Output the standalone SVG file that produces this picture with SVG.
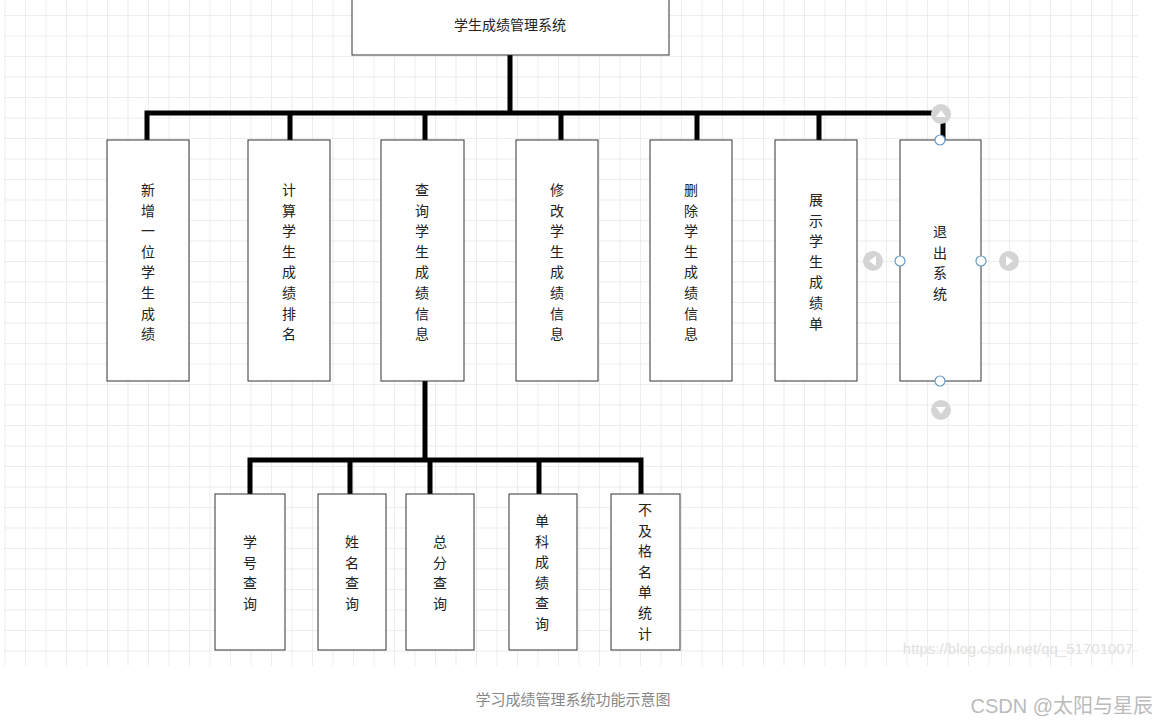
<svg xmlns="http://www.w3.org/2000/svg" width="1158" height="724" viewBox="0 0 1158 724">
<defs>
<pattern id="g" x="4.5" y="15" width="20.5" height="20.5" patternUnits="userSpaceOnUse"><path d="M0 0H20.5M0 0V20.5" stroke="#dcdcdc" stroke-width="1" fill="none"/></pattern>
<style>
.b{fill:#fff;stroke:#333;stroke-width:1}
.t{font-family:"Noto Sans CJK SC","Liberation Sans",sans-serif;font-size:14px;fill:#222;text-anchor:middle}
.c{stroke:#000;stroke-width:5;fill:none}
.h{fill:#fff;stroke:#6a9bc3;stroke-width:1.2}
.a{fill:#d4d4d4}
</style>
</defs>
<rect width="1158" height="724" fill="#fff"/>
<rect x="4" y="0" width="1134" height="666" fill="url(#g)"/>
<g id="connectors" class="c">
<path d="M510 55V113M147 140V113H943V140M290 113V140M425 113V140M561 113V140M697 113V140M819 113V140"/>
<path d="M425 381V460M250 494V460H641V494M350 460V494M430 460V494M539 460V494"/>
</g>
<g id="root"><rect class="b" x="352" y="-1" width="317" height="56"/><text class="t" x="510" y="30">学生成绩管理系统</text></g>
<g id="n1"><rect class="b" x="107" y="140" width="82" height="241"/><text class="t" x="148"><tspan x="148" y="195">新</tspan><tspan x="148" dy="20.6">增</tspan><tspan x="148" dy="20.6">一</tspan><tspan x="148" dy="20.6">位</tspan><tspan x="148" dy="20.6">学</tspan><tspan x="148" dy="20.6">生</tspan><tspan x="148" dy="20.6">成</tspan><tspan x="148" dy="20.6">绩</tspan></text></g>
<g id="n2"><rect class="b" x="248" y="140" width="82" height="241"/><text class="t"><tspan x="289" y="195">计</tspan><tspan x="289" dy="20.6">算</tspan><tspan x="289" dy="20.6">学</tspan><tspan x="289" dy="20.6">生</tspan><tspan x="289" dy="20.6">成</tspan><tspan x="289" dy="20.6">绩</tspan><tspan x="289" dy="20.6">排</tspan><tspan x="289" dy="20.6">名</tspan></text></g>
<g id="n3"><rect class="b" x="381" y="140" width="83" height="241"/><text class="t"><tspan x="422" y="195">查</tspan><tspan x="422" dy="20.6">询</tspan><tspan x="422" dy="20.6">学</tspan><tspan x="422" dy="20.6">生</tspan><tspan x="422" dy="20.6">成</tspan><tspan x="422" dy="20.6">绩</tspan><tspan x="422" dy="20.6">信</tspan><tspan x="422" dy="20.6">息</tspan></text></g>
<g id="n4"><rect class="b" x="516" y="140" width="82" height="241"/><text class="t"><tspan x="557" y="195">修</tspan><tspan x="557" dy="20.6">改</tspan><tspan x="557" dy="20.6">学</tspan><tspan x="557" dy="20.6">生</tspan><tspan x="557" dy="20.6">成</tspan><tspan x="557" dy="20.6">绩</tspan><tspan x="557" dy="20.6">信</tspan><tspan x="557" dy="20.6">息</tspan></text></g>
<g id="n5"><rect class="b" x="650" y="140" width="82" height="241"/><text class="t"><tspan x="691" y="195">删</tspan><tspan x="691" dy="20.6">除</tspan><tspan x="691" dy="20.6">学</tspan><tspan x="691" dy="20.6">生</tspan><tspan x="691" dy="20.6">成</tspan><tspan x="691" dy="20.6">绩</tspan><tspan x="691" dy="20.6">信</tspan><tspan x="691" dy="20.6">息</tspan></text></g>
<g id="n6"><rect class="b" x="775" y="140" width="82" height="241"/><text class="t"><tspan x="816" y="205">展</tspan><tspan x="816" dy="20.6">示</tspan><tspan x="816" dy="20.6">学</tspan><tspan x="816" dy="20.6">生</tspan><tspan x="816" dy="20.6">成</tspan><tspan x="816" dy="20.6">绩</tspan><tspan x="816" dy="20.6">单</tspan></text></g>
<g id="n7"><rect class="b" x="900" y="140" width="81" height="241"/><text class="t"><tspan x="940" y="237">退</tspan><tspan x="940" dy="20.6">出</tspan><tspan x="940" dy="20.6">系</tspan><tspan x="940" dy="20.6">统</tspan></text>
<circle class="a" cx="941" cy="114" r="10"/><path d="M936 111H946L941 118Z" fill="#fff" transform="rotate(180 941 114)"/>
<circle class="a" cx="941" cy="410" r="10"/><path d="M936 407H946L941 414Z" fill="#fff"/>
<circle class="a" cx="873" cy="261" r="10"/><path d="M876 256V266L869 261Z" fill="#fff"/>
<circle class="a" cx="1009" cy="261" r="10"/><path d="M1006 256V266L1013 261Z" fill="#fff"/>
<circle class="h" cx="940" cy="140" r="5"/><circle class="h" cx="940" cy="381" r="5"/><circle class="h" cx="900" cy="261" r="5"/><circle class="h" cx="981" cy="261" r="5"/></g>
<g id="s1"><rect class="b" x="215" y="494" width="70" height="156"/><text class="t"><tspan x="250" y="547">学</tspan><tspan x="250" dy="20.6">号</tspan><tspan x="250" dy="20.6">查</tspan><tspan x="250" dy="20.6">询</tspan></text></g>
<g id="s2"><rect class="b" x="318" y="494" width="68" height="156"/><text class="t"><tspan x="352" y="547">姓</tspan><tspan x="352" dy="20.6">名</tspan><tspan x="352" dy="20.6">查</tspan><tspan x="352" dy="20.6">询</tspan></text></g>
<g id="s3"><rect class="b" x="406" y="494" width="68" height="156"/><text class="t"><tspan x="440" y="547">总</tspan><tspan x="440" dy="20.6">分</tspan><tspan x="440" dy="20.6">查</tspan><tspan x="440" dy="20.6">询</tspan></text></g>
<g id="s4"><rect class="b" x="509" y="494" width="68" height="156"/><text class="t"><tspan x="542" y="526">单</tspan><tspan x="542" dy="20.6">科</tspan><tspan x="542" dy="20.6">成</tspan><tspan x="542" dy="20.6">绩</tspan><tspan x="542" dy="20.6">查</tspan><tspan x="542" dy="20.6">询</tspan></text></g>
<g id="s5"><rect class="b" x="611" y="494" width="69" height="156"/><text class="t"><tspan x="645" y="515">不</tspan><tspan x="645" dy="20.6">及</tspan><tspan x="645" dy="20.6">格</tspan><tspan x="645" dy="20.6">名</tspan><tspan x="645" dy="20.6">单</tspan><tspan x="645" dy="20.6">统</tspan><tspan x="645" dy="20.6">计</tspan></text></g>
<text x="1133" y="654" text-anchor="end" font-family="Liberation Sans,sans-serif" font-size="15" fill="#e0e0e0">https://blog.csdn.net/qq_51701007</text>
<text x="573" y="705" text-anchor="middle" font-family="Noto Sans CJK SC,sans-serif" font-size="15" fill="#888">学习成绩管理系统功能示意图</text>
<text x="1153" y="713" text-anchor="end" font-family="Liberation Sans,Noto Sans CJK SC,sans-serif" font-size="20" fill="#bbb">CSDN @太阳与星辰</text>
</svg>
